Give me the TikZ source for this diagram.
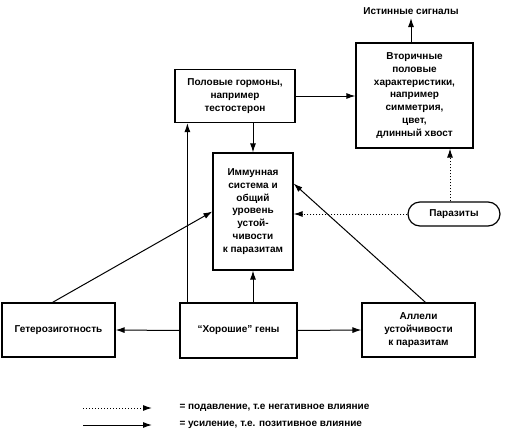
\documentclass[tikz,border=0pt]{standalone}
\usepackage{fontspec}
\setmainfont{Liberation Sans}
\usetikzlibrary{arrows.meta,positioning}

\begin{document}
\begin{tikzpicture}[x=1pt,y=-1pt,
        box/.style={draw,line width=1.2pt,align=center,font=\bfseries\fontsize{10}{12.8}\selectfont,inner sep=2pt},
        posarrow/.style={line width=1pt,-{Latex[length=9pt,width=6pt]}},
        negarrow/.style={line width=1pt,dotted,-{Latex[length=9pt,width=6pt]}}]
    \useasboundingbox (0,0) rectangle (514,434);
    % boxes
    \node[box,minimum width=120pt,minimum height=53pt] (hor) at (235,96) {Половые гормоны,\\например\\тестостерон};
    \node[box,minimum width=117pt,minimum height=105pt] (sec) at (414.5,95.5) {Вторичные\\половые\\характеристики,\\например\\симметрия,\\цвет,\\длинный хвост};
    \node[box,minimum width=80pt,minimum height=117pt] (imm) at (253,211.5) {Иммунная\\система и\\общий\\уровень\\устой-\\чивости\\к паразитам};
    \node[box,rounded corners=12pt,minimum width=92pt,minimum height=24pt] (par) at (454,214) {Паразиты};
    \node[box,minimum width=113pt,minimum height=54pt] (het) at (58.5,330) {Гетерозиготность};
    \node[box,minimum width=117pt,minimum height=55pt] (gg) at (238.5,330.5) {“Хорошие” гены};
    \node[box,minimum width=113pt,minimum height=54pt] (all) at (418.5,330) {Аллели\\устойчивости\\к паразитам};
    \node[font=\bfseries\fontsize{10}{12.8}\selectfont] (sig) at (411,11) {Истинные сигналы};

    % connectors
    \draw[posarrow] (sec.north -| sig.south) -- (sig.south);
    \draw[posarrow] (hor.east) -- (hor.east -| sec.west);
    \draw[posarrow] (imm.north |- hor.south) -- (imm.north);
    \coordinate (ggl) at ([xshift=8pt]gg.north west);
    \draw[posarrow] (ggl) -- (ggl |- hor.south);
    \draw[posarrow] (imm.south |- gg.north) -- (imm.south);
    \draw[posarrow] ([xshift=-6pt]het.north) -- (imm.west);
    \draw[posarrow] ([xshift=7pt]all.north) -- ([yshift=28pt]imm.east);
    \draw[posarrow] (gg.west) -- (het.east);
    \draw[posarrow] (gg.east) -- (all.west);
    \draw[negarrow] (par.west) -- (par.west -| imm.east);
    \draw[negarrow] ([xshift=-4pt]par.north) -- ([xshift=-4pt]par.north |- sec.south);

    % legend
    \coordinate (la) at (83,408);
    \coordinate (lb) at (152,408);
    \coordinate (lc) at (83,425);
    \coordinate (ld) at (152,425);
    \draw[negarrow] (la) -- (lb);
    \draw[posarrow] (lc) -- (ld);
    \node[anchor=west,font=\bfseries\fontsize{10}{12.8}\selectfont] (lt1) at (176,408) {= подавление, т.е негативное влияние};
    \node[anchor=west,font=\bfseries\fontsize{10}{12.8}\selectfont] (lt2) at (176,425) {= усиление, т.е. позитивное влияние};
\end{tikzpicture}
\end{document}
